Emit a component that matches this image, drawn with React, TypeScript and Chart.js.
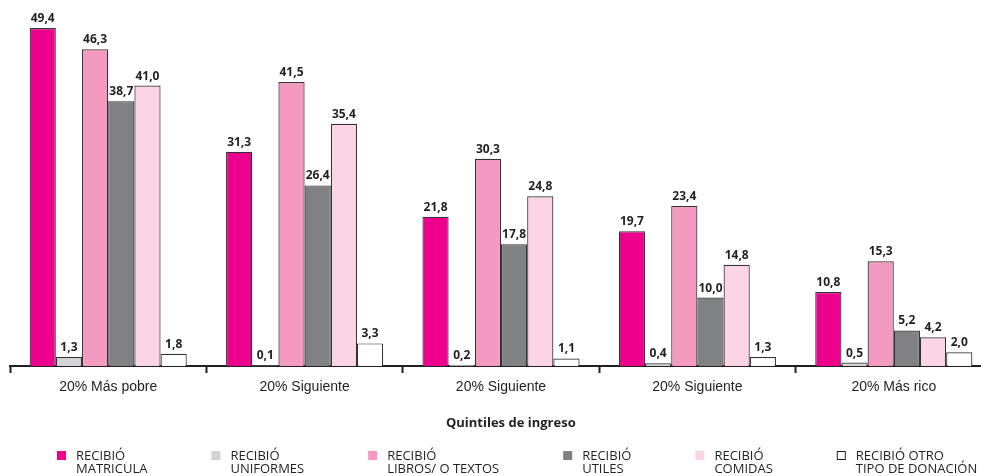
import React, { useEffect, useRef } from "react";
import { Chart, registerables } from "chart.js";

Chart.register(...registerables);

const categories = ["20% Más pobre", "20% Siguiente", "20% Siguiente", "20% Siguiente", "20% Más rico"];

const matricula = [49.4, 31.3, 21.8, 19.7, 10.8];
const uniformes = [1.3, 0.1, 0.2, 0.4, 0.5];
const libros = [46.3, 41.5, 30.3, 23.4, 15.3];
const utiles = [38.7, 26.4, 17.8, 10.0, 5.2];
const comidas = [41.0, 35.4, 24.8, 14.8, 4.2];
const otro = [1.8, 3.3, 1.1, 1.3, 2.0];

const seriesValues = [matricula, uniformes, libros, utiles, comidas, otro];
const seriesNames = [
  ["RECIBIÓ", "MATRICULA"],
  ["RECIBIÓ", "UNIFORMES"],
  ["RECIBIÓ", "LIBROS/ O TEXTOS"],
  ["RECIBIÓ", "UTILES"],
  ["RECIBIÓ", "COMIDAS"],
  ["RECIBIÓ OTRO", "TIPO DE DONACIÓN"],
];
const seriesColors = ["#EC008C", "#D1D3D4", "#F49AC1", "#808183", "#FBD4E6", "#FFFFFF"];
const axisTitle = "Quintiles de ingreso";

const INK = "#231F20";
const fmt = (v: number) => v.toFixed(1).replace(".", ",");

const valueLabels = {
  id: "valueLabels",
  afterDatasetsDraw(chart: any) {
    const ctx = chart.ctx;
    ctx.save();
    ctx.font = 'bold 12px "Open Sans"';
    ctx.fillStyle = INK;
    ctx.textAlign = "center";
    ctx.textBaseline = "alphabetic";
    chart.data.datasets.forEach((ds: any, i: number) => {
      const meta = chart.getDatasetMeta(i);
      meta.data.forEach((el: any, j: number) => {
        ctx.fillText(fmt(ds.data[j]), el.x, el.y - 6);
      });
    });
    ctx.restore();
  },
};

const titleAndLegend = {
  id: "titleAndLegend",
  afterDraw(chart: any) {
    const ctx = chart.ctx;
    const area = chart.chartArea;
    ctx.save();
    ctx.fillStyle = INK;
    ctx.font = 'bold 13px "Open Sans"';
    ctx.textAlign = "center";
    ctx.textBaseline = "alphabetic";
    ctx.fillText(axisTitle, area.left + area.width * 0.51, 427);

    ctx.font = '13px "Open Sans"';
    ctx.textAlign = "left";
    let x = 57;
    chart.data.datasets.forEach((ds: any) => {
      ctx.fillStyle = ds.backgroundColor;
      ctx.fillRect(x, 451, 9, 9);
      if (ds.backgroundColor === "#FFFFFF") {
        ctx.strokeStyle = INK;
        ctx.lineWidth = 1;
        ctx.strokeRect(x + 0.5, 451.5, 8, 8);
      }
      ctx.fillStyle = INK;
      const lines: string[] = ds.legendLines;
      let w = 0;
      lines.forEach((ln, k) => {
        ctx.fillText(ln, x + 19, 460 + k * 13);
        w = Math.max(w, ctx.measureText(ln).width);
      });
      x = x + 19 + w + 64;
    });
    ctx.restore();
  },
};

export default function App() {
  const ref = useRef<HTMLCanvasElement | null>(null);
  useEffect(() => {
    if (!ref.current) return;
    const chart = new Chart(ref.current, {
      type: "bar",
      data: {
        labels: categories,
        datasets: seriesValues.map((vals, i) => ({
          label: seriesNames[i].join(" "),
          legendLines: seriesNames[i],
          data: vals,
          backgroundColor: seriesColors[i],
          borderColor: "#333333",
          borderWidth: 1.2,
          categoryPercentage: 0.8,
          barPercentage: 1,
        })) as any,
      },
      options: {
        responsive: false,
        animation: false,
        layout: { padding: { left: 10, right: 0, top: 0, bottom: 0 } },
        plugins: { legend: { display: false }, tooltip: { enabled: false } },
        scales: {
          x: {
            offset: true,
            afterFit: (s: any) => {
              s.height = 110;
            },
            grid: {
              display: true,
              drawOnChartArea: false,
              drawTicks: true,
              tickLength: 7,
              tickWidth: 2,
              tickColor: INK,
              offset: true,
            },
            border: { display: true, color: INK, width: 2 },
            ticks: {
              color: INK,
              padding: 6,
              font: { family: '"Liberation Sans", Arial, sans-serif', size: 14 },
            },
          },
          y: { display: false, min: 0, max: 53.5 },
        },
      } as any,
      plugins: [valueLabels, titleAndLegend],
    });
    document.fonts
      .load('bold 12px "Open Sans"')
      .then(() => document.fonts.load('13px "Open Sans"'))
      .then(() => {
        try {
          chart.draw();
        } catch (e) {}
      });
    return () => chart.destroy();
  }, []);
  return (
    <div style={{ position: "fixed", left: 0, top: 0, width: 981, height: 476, overflow: "hidden", background: "#fff" }}>
      <canvas ref={ref} width={992} height={476} style={{ display: "block" }} />
    </div>
  );
}
